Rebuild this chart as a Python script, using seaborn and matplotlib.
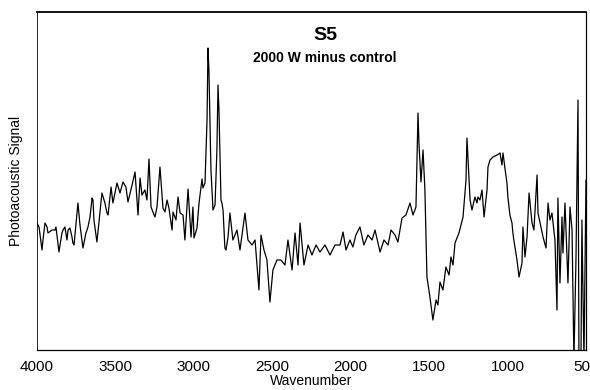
import matplotlib
matplotlib.use("Agg")
import matplotlib.pyplot as plt
import seaborn as sns
import numpy as np
import pandas as pd
from matplotlib.ticker import MultipleLocator

wavenumber = [
    4000, 3994, 3987, 3968, 3962, 3949, 3936, 3930, 3904, 3885,
    3879, 3860, 3841, 3834, 3822, 3809, 3802, 3790, 3777, 3771,
    3764, 3739, 3726, 3707, 3688, 3681, 3675, 3662, 3649, 3643,
    3637, 3618, 3598, 3586, 3567, 3554, 3547, 3528, 3516, 3490,
    3471, 3452, 3433, 3420, 3394, 3375, 3356, 3343, 3331, 3312,
    3299, 3286, 3273, 3261, 3248, 3235, 3216, 3197, 3184, 3171,
    3159, 3139, 3133, 3114, 3101, 3088, 3069, 3057, 3044, 3037,
    3018, 3006, 2999, 2980, 2967, 2948, 2942, 2929, 2916, 2910,
    2904, 2891, 2878, 2865, 2853, 2846, 2840, 2827, 2821, 2814,
    2802, 2795, 2782, 2770, 2751, 2725, 2706, 2674, 2655, 2629,
    2610, 2585, 2572, 2553, 2534, 2515, 2496, 2470, 2445, 2419,
    2400, 2374, 2355, 2336, 2323, 2298, 2272, 2247, 2221, 2196,
    2164, 2132, 2100, 2068, 2049, 2030, 2005, 1986, 1967, 1941,
    1916, 1890, 1864, 1845, 1813, 1788, 1762, 1743, 1718, 1699,
    1673, 1648, 1622, 1603, 1584, 1571, 1565, 1552, 1539, 1527,
    1514, 1495, 1482, 1476, 1456, 1444, 1431, 1412, 1393, 1373,
    1361, 1348, 1335, 1310, 1284, 1265, 1259, 1239, 1227, 1208,
    1195, 1189, 1176, 1163, 1150, 1131, 1125, 1112, 1093, 1067,
    1048, 1036, 1029, 1017, 1004, 998, 985, 972, 966, 960,
    940, 927, 908, 902, 889, 876, 863, 844, 832, 812,
    806, 787, 774, 755, 742, 730, 717, 710, 698, 685,
    679, 666, 653, 647, 634, 615, 602, 589, 577, 564,
    551, 545, 532, 526, 513, 500,
]

signal = [
    127, 125, 123, 100, 110, 127, 123, 117, 120, 120,
    123, 98, 117, 120, 123, 110, 120, 122, 113, 107,
    105, 147, 125, 102, 117, 120, 123, 133, 152, 150,
    130, 108, 138, 157, 147, 137, 135, 163, 147, 167,
    157, 168, 163, 148, 165, 178, 135, 172, 155, 160,
    150, 191, 143, 138, 133, 143, 183, 142, 138, 150,
    142, 120, 138, 130, 153, 137, 135, 110, 143, 161,
    113, 143, 112, 122, 147, 171, 162, 167, 230, 302,
    280, 180, 140, 145, 200, 265, 240, 150, 147, 140,
    102, 100, 113, 137, 110, 120, 100, 137, 110, 105,
    110, 60, 115, 100, 90, 48, 80, 90, 90, 85,
    110, 80, 117, 85, 127, 85, 105, 95, 105, 98,
    105, 95, 105, 105, 118, 100, 110, 103, 115, 123,
    105, 115, 110, 120, 98, 110, 105, 120, 115, 108,
    132, 135, 147, 135, 143, 237, 207, 168, 200, 160,
    73, 53, 37, 30, 50, 45, 68, 60, 83, 75,
    93, 85, 107, 117, 133, 170, 212, 150, 140, 153,
    147, 153, 150, 160, 133, 160, 183, 190, 193, 195,
    197, 185, 197, 182, 167, 153, 135, 127, 117, 110,
    90, 73, 87, 123, 93, 113, 157, 127, 120, 175,
    137, 123, 113, 102, 147, 130, 137, 127, 110, 40,
    152, 67, 133, 97, 147, 67, 143, 120, -10, 90,
    250, -10, -10, 130, -10, 170,
]

xticks = [4000, 3500, 3000, 2500, 2000, 1500, 1000, 500]
xticklabels = ["4000", "3500", "3000", "2500", "2000", "1500", "1000", "500"]
title_text = "S5"
subtitle_text = "2000 W minus control"
xlabel_text = "Wavenumber"
ylabel_text = "Photoacoustic Signal"

sns.set_style("white")
plt.rcParams["font.family"] = ["Liberation Sans", "DejaVu Sans"]
plt.rcParams["text.color"] = "black"
plt.rcParams["axes.labelcolor"] = "black"
plt.rcParams["xtick.color"] = "black"

df = pd.DataFrame({"wn": wavenumber, "sig": signal})

fig = plt.figure(figsize=(5.9, 3.9), dpi=100)
ax = fig.add_axes([37 / 590, 1 - 350 / 390, 549 / 590, 338 / 390])

sns.lineplot(data=df, x="wn", y="sig", sort=False, estimator=None,
             color="black", linewidth=0.9, ax=ax)

ax.set_xlim(4000, 500)
ax.set_ylim(0, 338)
ax.set_xticks(xticks)
ax.set_xticklabels(xticklabels, fontsize=11)
ax.xaxis.set_minor_locator(MultipleLocator(100))
ax.tick_params(axis="x", which="major", direction="out", length=4,
               width=0.8, color="black", pad=3, labelcolor="black")
ax.tick_params(axis="x", which="minor", direction="in", length=2,
               width=0.6, color="black")
ax.set_yticks([])
ax.set_xlabel(xlabel_text, fontsize=10, labelpad=0, color="black")
ax.set_ylabel(ylabel_text, fontsize=10, labelpad=10, color="black")

for s in ax.spines.values():
    s.set_color("black")
    s.set_linewidth(0.9)
ax.spines["top"].set_linewidth(1.3)
ax.spines["left"].set_linewidth(0.6)

ax.text(0.525, 0.93, title_text, transform=ax.transAxes, ha="center",
        va="center", fontsize=14, fontweight="bold", color="black")
ax.text(0.525, 0.865, subtitle_text, transform=ax.transAxes, ha="center",
        va="center", fontsize=10, fontweight="bold", color="black")

fig.savefig("out.png", dpi=100)
